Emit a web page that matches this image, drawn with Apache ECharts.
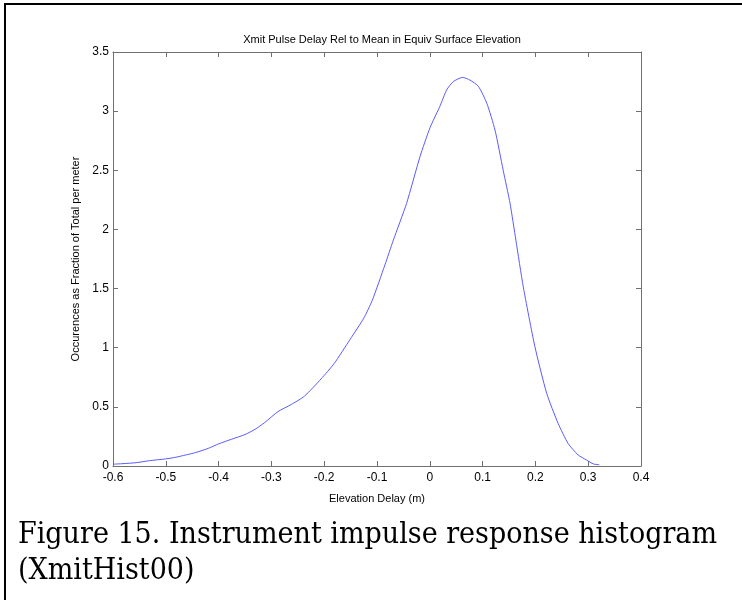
<!DOCTYPE html>
<html><head><meta charset="utf-8">
<script src="https://cdn.jsdelivr.net/npm/echarts@6/dist/echarts.min.js"></script>
<style>html,body{margin:0;padding:0;background:#fff}#c{width:742px;height:600px}</style>
</head><body><div id="c"></div>
<script>
const xs = [-0.6,-0.581,-0.556,-0.531,-0.5,-0.481,-0.4625,-0.444,-0.419,-0.4,-0.375,-0.35,-0.331,-0.3125,-0.2875,-0.2625,-0.2375,-0.206,-0.181,-0.151,-0.125,-0.109,-0.085,-0.069,-0.044,-0.0186,0.0004,0.019,0.032,0.0445,0.062,0.076,0.092,0.108,0.1235,0.139,0.152,0.163,0.177,0.199,0.2214,0.243,0.262,0.281,0.297,0.31,0.321];
const ys = [0.015,0.02,0.028,0.045,0.06,0.074,0.093,0.113,0.15,0.187,0.227,0.266,0.31,0.368,0.46,0.52,0.59,0.736,0.867,1.07,1.25,1.40,1.70,1.91,2.22,2.615,2.86,3.04,3.18,3.25,3.285,3.263,3.21,3.066,2.84,2.50,2.22,1.91,1.516,1.01,0.614,0.36,0.19,0.093,0.05,0.017,0.011];
const xTicks = [-0.6,-0.5,-0.4,-0.3,-0.2,-0.1,0,0.1,0.2,0.3,0.4];
const yTicks = [0,0.5,1,1.5,2,2.5,3,3.5];
const titleText = 'Xmit Pulse Delay Rel to Mean in Equiv Surface Elevation';
const xName = 'Elevation Delay (m)';
const yName = 'Occurences as Fraction of Total per meter';
const caption1 = 'Figure 15. Instrument impulse response histogram';
const caption2 = '(XmitHist00)';

const chart = echarts.init(document.getElementById('c'), null, {renderer:'canvas'});
const font = 'Liberation Sans';
const axisLine = {show:true, onZero:false, lineStyle:{color:'#707070', width:1}};
const tick = {show:true, inside:true, length:5, lineStyle:{color:'#707070'}};
const fmtX = v => { const r = Math.round(v*10)/10; return r===0?'0':String(r); };
chart.setOption({
  animation:false,
  title:{text:titleText, left:377, top:29, textAlign:'center',
    textStyle:{fontFamily:font, fontSize:11, fontWeight:'normal', color:'#000'}},
  grid:{left:113, right:101, top:52, bottom:134},
  xAxis:[{type:'value', min:-0.6, max:0.4, interval:0.1, position:'bottom',
    name:xName, nameLocation:'middle', nameGap:27,
    nameTextStyle:{fontFamily:font, fontSize:11, color:'#000'},
    axisLine, axisTick:tick, splitLine:{show:false},
    axisLabel:{fontFamily:font, fontSize:12, color:'#000', margin:6, formatter:fmtX}},
    {type:'value', min:-0.6, max:0.4, interval:0.1, position:'top',
    axisLine, axisTick:tick, splitLine:{show:false}, axisLabel:{show:false}}],
  yAxis:[{type:'value', min:0, max:3.5, interval:0.5, position:'left',
    name:yName, nameLocation:'middle', nameGap:28, nameRotate:90,
    nameTextStyle:{fontFamily:font, fontSize:11, color:'#000'},
    axisLine, axisTick:tick, splitLine:{show:false},
    axisLabel:{fontFamily:font, fontSize:12, color:'#000', margin:4}},
    {type:'value', min:0, max:3.5, interval:0.5, position:'right',
    axisLine, axisTick:tick, splitLine:{show:false}, axisLabel:{show:false}}],
  series:[{type:'line', data:xs.map((x,i)=>[x, ys[i]]), showSymbol:false, smooth:0.2,
    lineStyle:{color:'#5a5aff', width:1}, z:1}],
  graphic:[
    {type:'line', shape:{x1:5, y1:3, x2:5, y2:600}, style:{stroke:'#000', lineWidth:2}},
    {type:'line', shape:{x1:4, y1:4, x2:742, y2:4}, style:{stroke:'#000', lineWidth:2}},
    {type:'text', left:18, top:520, style:{text:caption1, font:'30px "DejaVu Serif Condensed", "DejaVu Serif"', fill:'#000'}},
    {type:'text', left:18, top:556, style:{text:caption2, font:'30px "DejaVu Serif Condensed", "DejaVu Serif"', fill:'#000'}}
  ]
});
</script></body></html>
